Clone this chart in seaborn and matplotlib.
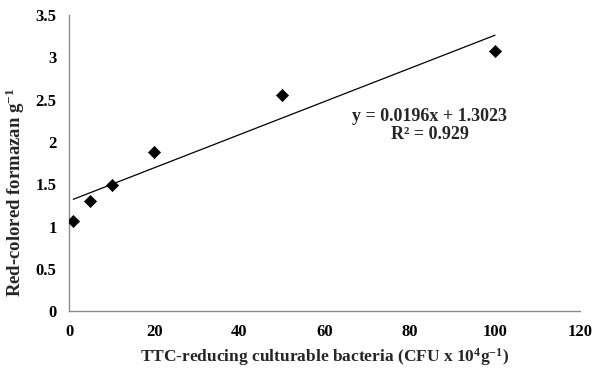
import numpy as np
import pandas as pd
import matplotlib
matplotlib.use('Agg')
import matplotlib.pyplot as plt
import seaborn as sns

# data
bacteria = [1, 5, 10, 20, 50, 100]
formazan = [1.07, 1.30, 1.49, 1.88, 2.55, 3.08]
slope = 0.0196
intercept = 1.3023
r2 = 0.929

sns.set_theme(style='white')
plt.rcParams['font.family'] = ['Liberation Serif', 'DejaVu Serif']
plt.rcParams['font.weight'] = 'bold'
plt.rcParams['mathtext.fontset'] = 'custom'
plt.rcParams['mathtext.rm'] = 'Liberation Serif:bold'
plt.rcParams['mathtext.bf'] = 'Liberation Serif:bold'
plt.rcParams['mathtext.it'] = 'Liberation Serif:bold'

df = pd.DataFrame({'x': bacteria, 'y': formazan})
xs = np.array([min(bacteria), max(bacteria)])
trend = pd.DataFrame({'x': xs, 'y': slope * xs + intercept})

fig = plt.figure(figsize=(5.95, 3.69), dpi=100)
ax = fig.add_axes([0.116, 0.157, 0.859, 0.802])

sns.lineplot(data=trend, x='x', y='y', ax=ax, color='black', linewidth=0.9)
sns.scatterplot(data=df, x='x', y='y', ax=ax, marker='D', color='black', s=38, edgecolor='black', zorder=3)

ax.set_xlim(0, 120)
ax.set_ylim(0, 3.5)
ax.set_xticks(np.arange(0, 121, 20))
ax.set_yticks(np.arange(0, 3.51, 0.5))
ax.set_yticklabels(['0', '0.5', '1', '1.5', '2', '2.5', '3', '3.5'])

for side in ['top', 'right']:
    ax.spines[side].set_visible(False)
for side in ['left', 'bottom']:
    ax.spines[side].set_color('#8c8c8c')
    ax.spines[side].set_linewidth(1.0)
ax.tick_params(axis='both', which='major', direction='out', length=5, width=1,
               color='#8c8c8c', labelsize=12, labelcolor='black', pad=4)
for lab in ax.get_xticklabels() + ax.get_yticklabels():
    lab.set_fontweight('bold')

ax.set_xlabel('TTC-reducing culturable bacteria (CFU x 10$^{4}$g$^{-1}$)', fontsize=12.5, fontweight='bold')
ax.set_ylabel('Red-colored formazan g$^{-1}$', fontsize=13.5, fontweight='bold')
ax.xaxis.set_label_coords(0.5, -0.118)
ax.yaxis.set_label_coords(-0.083, 0.40)

ax.text(0.706, 0.628, f'y = {slope}x + {intercept}\nR² = {r2}', transform=ax.transAxes,
        ha='center', va='center', fontsize=13, fontweight='bold', linespacing=1.05)

fig.savefig('out.png', dpi=100)
